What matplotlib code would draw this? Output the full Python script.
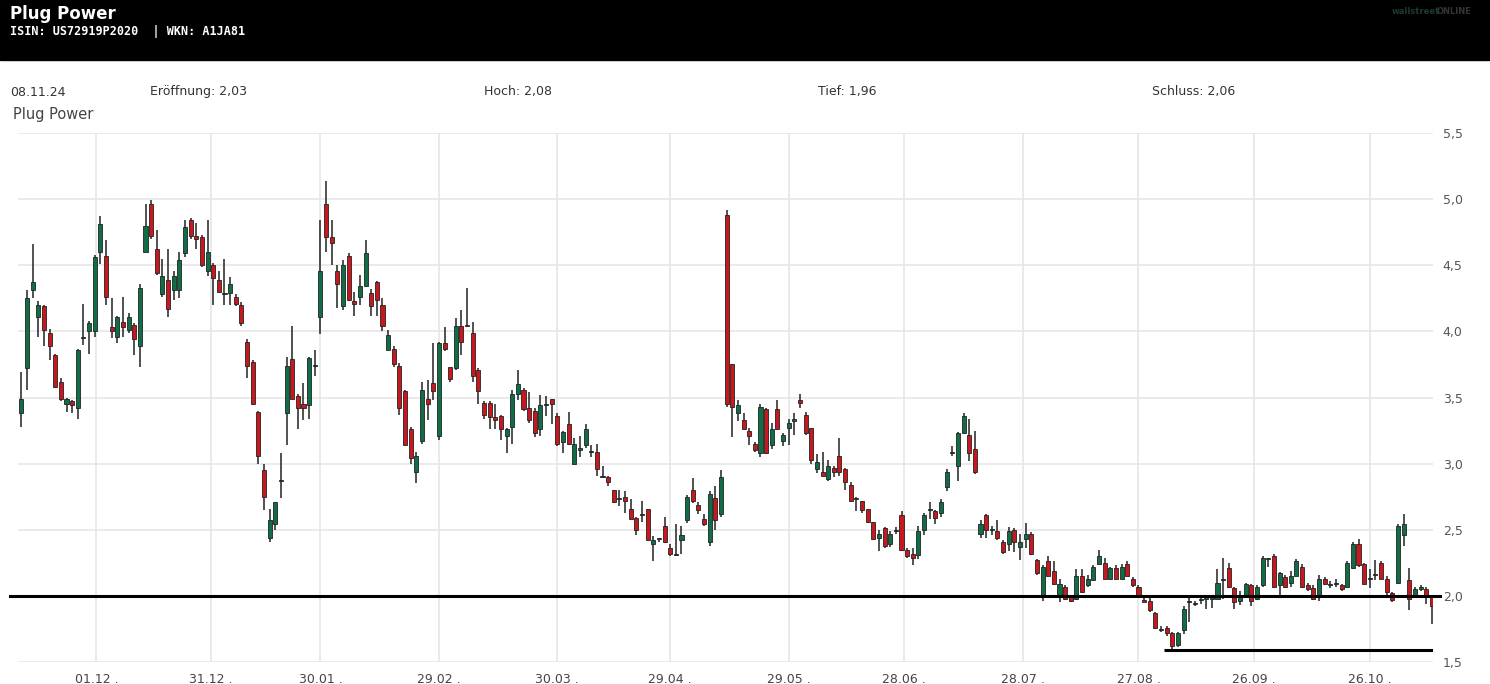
import matplotlib
matplotlib.use("Agg")
import matplotlib.pyplot as plt
from matplotlib.patches import Rectangle

opens = [3.38,3.72,4.31,4.11,4.19,3.99,3.82,3.62,3.45,3.47,3.42,3.95,4.0,4.0,4.6,4.57,4.03,3.96,4.07,4.01,
 4.05,3.89,4.6,4.96,4.62,4.28,4.39,4.31,4.31,4.59,4.84,4.72,4.71,4.46,4.5,4.39,4.28,4.29,4.26,4.2,
 3.92,3.77,3.39,2.95,2.44,2.54,2.87,3.38,3.79,3.51,3.45,3.44,3.74,4.11,4.96,4.71,4.46,4.19,4.57,4.23,
 4.26,4.34,4.29,4.37,4.2,3.86,3.87,3.74,3.55,3.26,2.94,3.17,3.49,3.61,3.21,3.91,3.73,3.72,4.04,4.05,
 3.99,3.71,3.46,3.46,3.35,3.36,3.21,3.28,3.53,3.56,3.42,3.4,3.26,3.44,3.49,3.36,3.16,3.3,3.0,3.1,
 3.14,3.09,3.09,2.9,2.9,2.8,2.73,2.75,2.66,2.59,2.61,2.66,2.39,2.43,2.53,2.36,2.31,2.42,2.57,2.8,
 2.69,2.58,2.41,2.74,2.62,4.88,3.75,3.38,3.33,3.25,3.15,3.08,3.41,3.14,3.41,3.17,3.27,3.32,3.48,3.37,
 3.27,2.96,2.94,2.88,2.97,3.06,2.96,2.84,2.73,2.72,2.66,2.56,2.44,2.51,2.39,2.49,2.61,2.35,2.32,2.31,
 2.5,2.65,2.64,2.63,2.82,3.08,2.98,3.23,3.22,3.11,2.47,2.61,2.5,2.49,2.41,2.39,2.5,2.37,2.43,2.47,
 2.27,2.0,2.26,2.19,2.0,2.07,2.0,1.98,2.15,2.08,2.12,2.24,2.25,2.13,2.21,2.13,2.24,2.13,2.07,1.97,
 1.96,1.87,1.74,1.76,1.72,1.63,1.74,1.95,1.94,1.97,1.98,1.98,1.98,2.12,2.21,2.06,1.96,2.0,2.08,1.98,
 2.08,2.28,2.3,2.08,2.14,2.1,2.15,2.22,2.08,2.06,1.99,2.13,2.08,2.09,2.08,2.07,2.21,2.39,2.24,2.13,
 2.16,2.25,2.13,2.02,2.1,2.46,2.12,2.0,2.05,2.05,1.99]
closes = [3.49,4.25,4.37,4.2,4.01,3.89,3.58,3.49,3.49,3.44,3.86,3.95,4.06,4.56,4.81,4.26,4.0,4.11,4.03,4.11,
 3.94,4.33,4.8,4.72,4.44,4.42,4.17,4.42,4.54,4.79,4.72,4.7,4.5,4.6,4.4,4.3,4.28,4.36,4.21,4.06,
 3.74,3.45,3.06,2.75,2.57,2.71,2.87,3.74,3.49,3.42,3.42,3.8,3.74,4.46,4.71,4.67,4.36,4.5,4.24,4.21,
 4.34,4.59,4.19,4.24,4.04,3.97,3.75,3.42,3.14,3.04,3.06,3.56,3.45,3.55,3.91,3.87,3.64,4.04,3.92,4.04,
 3.66,3.55,3.37,3.35,3.33,3.26,3.26,3.53,3.6,3.41,3.33,3.23,3.44,3.44,3.45,3.15,3.24,3.15,3.15,3.12,
 3.26,3.09,2.96,2.9,2.86,2.71,2.73,2.72,2.58,2.5,2.61,2.42,2.42,2.43,2.41,2.32,2.31,2.46,2.75,2.72,
 2.65,2.54,2.77,2.57,2.9,3.45,3.43,3.44,3.26,3.21,3.1,3.43,3.08,3.26,3.26,3.22,3.31,3.34,3.46,3.23,
 3.03,3.01,2.91,2.98,2.94,2.94,2.86,2.72,2.73,2.65,2.56,2.43,2.47,2.38,2.47,2.49,2.35,2.3,2.29,2.49,
 2.61,2.65,2.59,2.71,2.94,3.08,3.23,3.36,3.08,2.94,2.54,2.5,2.5,2.44,2.33,2.49,2.41,2.41,2.47,2.32,
 2.17,2.22,2.15,2.09,2.09,1.98,1.96,2.15,2.03,2.13,2.22,2.3,2.13,2.21,2.13,2.22,2.15,2.08,2.0,1.95,
 1.89,1.76,1.74,1.72,1.62,1.72,1.9,1.95,1.94,1.97,1.98,1.98,2.1,2.12,2.07,1.95,2.01,2.09,1.96,2.07,
 2.29,2.28,2.07,2.17,2.07,2.15,2.26,2.07,2.05,1.98,2.13,2.09,2.08,2.09,2.05,2.25,2.39,2.23,2.09,2.13,
 2.16,2.13,2.03,1.97,2.53,2.54,1.98,2.05,2.07,2.0,1.92]
highs = [3.69,4.31,4.66,4.23,4.2,4.02,3.83,3.65,3.5,3.48,3.87,4.21,4.08,4.58,4.87,4.69,4.25,4.12,4.26,4.14,
 4.06,4.36,4.96,4.99,4.77,4.55,4.62,4.46,4.6,4.84,4.86,4.82,4.73,4.84,4.52,4.46,4.55,4.41,4.28,4.22,
 3.94,3.78,3.4,3.0,2.66,2.71,3.08,3.81,4.04,3.53,3.61,3.81,3.86,4.84,5.14,4.84,4.5,4.54,4.59,4.3,
 4.43,4.69,4.32,4.38,4.25,4.01,3.89,3.76,3.56,3.28,3.09,3.62,3.63,3.91,3.92,4.03,3.7,4.1,4.16,4.33,
 4.07,3.72,3.47,3.47,3.45,3.37,3.27,3.56,3.71,3.57,3.54,3.42,3.52,3.51,3.49,3.38,3.25,3.39,3.19,3.21,
 3.3,3.14,3.15,2.98,2.91,2.8,2.8,2.79,2.73,2.6,2.72,2.66,2.45,2.44,2.6,2.39,2.54,2.53,2.76,2.89,
 2.71,2.62,2.79,2.83,2.95,4.92,3.75,3.48,3.38,3.27,3.16,3.45,3.42,3.31,3.48,3.23,3.34,3.38,3.53,3.39,
 3.27,3.07,3.09,3.03,2.98,3.19,2.97,2.86,2.75,2.72,2.66,2.56,2.5,2.52,2.49,2.52,2.64,2.36,2.36,2.53,
 2.63,2.71,2.65,2.73,2.96,3.13,3.24,3.38,3.34,3.25,2.57,2.62,2.53,2.57,2.42,2.52,2.51,2.47,2.55,2.48,
 2.28,2.23,2.3,2.26,2.13,2.08,2.0,2.2,2.2,2.16,2.23,2.35,2.29,2.22,2.23,2.24,2.26,2.14,2.08,1.99,
 1.99,1.88,1.77,1.77,1.73,1.73,1.92,2.0,1.96,2.01,2.01,2.0,2.2,2.29,2.25,2.07,2.04,2.1,2.09,2.08,
 2.3,2.29,2.32,2.18,2.16,2.19,2.28,2.24,2.1,2.08,2.16,2.14,2.11,2.13,2.09,2.26,2.41,2.43,2.25,2.2,
 2.27,2.26,2.15,2.03,2.54,2.62,2.21,2.07,2.08,2.07,2.01]
lows = [3.28,3.56,4.25,3.96,3.89,3.78,3.57,3.47,3.39,3.38,3.34,3.9,3.83,3.96,4.51,4.2,3.95,3.91,3.96,3.99,
 3.82,3.73,4.6,4.7,4.43,4.26,4.11,4.24,4.25,4.56,4.7,4.62,4.49,4.42,4.2,4.29,4.2,4.2,4.19,4.04,
 3.65,3.44,3.0,2.65,2.41,2.5,2.74,3.14,3.49,3.26,3.33,3.34,3.66,3.98,4.6,4.5,4.18,4.16,4.23,4.12,
 4.2,4.34,4.12,4.12,4.0,3.87,3.73,3.37,3.14,3.0,2.85,3.15,3.33,3.48,3.18,3.85,3.62,3.71,3.82,4.03,
 3.62,3.45,3.34,3.26,3.26,3.18,3.08,3.15,3.48,3.4,3.31,3.2,3.21,3.36,3.3,3.13,3.08,3.14,3.0,3.05,
 3.12,3.05,2.91,2.89,2.83,2.7,2.68,2.63,2.58,2.46,2.56,2.42,2.26,2.41,2.4,2.3,2.3,2.32,2.55,2.7,
 2.62,2.53,2.38,2.5,2.6,3.43,3.2,3.32,3.26,3.14,3.09,3.05,3.07,3.11,3.26,3.13,3.14,3.22,3.42,3.22,
 3.0,2.93,2.91,2.87,2.9,2.91,2.8,2.71,2.64,2.63,2.55,2.42,2.34,2.36,2.37,2.47,2.34,2.29,2.23,2.28,
 2.46,2.58,2.54,2.6,2.79,3.06,2.87,3.23,3.02,2.92,2.44,2.44,2.46,2.42,2.32,2.34,2.33,2.27,2.36,2.31,
 2.16,1.96,2.15,2.08,1.95,1.97,1.95,1.97,2.02,2.07,2.12,2.23,2.13,2.12,2.13,2.13,2.15,2.07,2.0,1.95,
 1.88,1.75,1.73,1.7,1.6,1.61,1.71,1.8,1.92,1.94,1.9,1.91,1.98,1.98,2.06,1.9,1.93,1.99,1.92,1.97,
 2.07,2.22,2.06,2.0,2.06,2.07,2.15,2.06,2.04,1.97,1.96,2.09,2.06,2.07,2.04,2.06,2.2,2.22,2.09,2.06,
 2.12,2.13,2.01,1.95,2.09,2.38,1.89,1.99,2.04,1.94,1.79]
tick_labels = ["01.12 .","31.12 .","30.01 .","29.02 .","30.03 .","29.04 .","29.05 .","28.06 .","28.07 .","27.08 .","26.09 .","26.10 ."]
tick_idx = [13.3,33.6,53,74,95,115,136,156.5,177.5,198,218.5,239]
support_main = 2.0
support_low = 1.59
support_low_start = 203

GREEN = "#0f6e46"; RED = "#c8171d"

fig = plt.figure(figsize=(14.9, 6.84), dpi=100)
fig.patches.append(Rectangle((0, 1 - 60/684), 1, 60/684, transform=fig.transFigure, color="black", zorder=0))
fig.text(10/1490, 1 - 14/684, "Plug Power", color="white", fontsize=12, fontweight="bold", va="center")
fig.text(10/1490, 1 - 31/684, "ISIN: US72919P2020  | WKN: A1JA81", color="white", fontsize=8.5,
         fontweight="bold", va="center", family="DejaVu Sans Mono")
fig.text(1392/1490, 1 - 11/684, "wallstreet", color="#1d3a2c", fontsize=6, fontweight="bold", va="center")
fig.text(1437/1490, 1 - 11/684, "ONLINE", color="#333333", fontsize=6, fontweight="bold", va="center")
for xp, t in [(10, "08.11.24"), (150, "Eröffnung: 2,03"), (484, "Hoch: 2,08"), (818, "Tief: 1,96"), (1152, "Schluss: 2,06")]:
    fig.text(xp/1490, 1 - 92/684, t, color="#333333", fontsize=9, va="center")
fig.text(13/1490, 1 - 114/684, "Plug Power", color="#444444", fontsize=10.5, va="center")

L, R, B, T = 18, 1433, 662, 133
ax = fig.add_axes([L/1490, 1 - B/684, (R-L)/1490, (B-T)/684])
n = len(closes)
xs = list(range(n))
for i in xs:
    o, h, l, c = opens[i], highs[i], lows[i], closes[i]
    col = GREEN if c >= o else RED
    ax.vlines(i, l, h, color="#222222", lw=1.1, zorder=2)
    bot, ht = min(o, c), max(abs(c - o), 0.008)
    ax.add_patch(Rectangle((i - 0.36, bot), 0.72, ht, facecolor=col, edgecolor="#222222", lw=0.6, zorder=3))

ax.set_xlim(-0.6, n - 0.8)
ax.set_ylim(1.5, 5.5)
yt = [1.5, 2.0, 2.5, 3.0, 3.5, 4.0, 4.5, 5.0, 5.5]
ax.set_yticks(yt)
ax.set_yticklabels([f"{v:.1f}".replace(".", ",") for v in yt])
ax.yaxis.tick_right()
ax.tick_params(axis="y", length=0, pad=7, labelsize=9, labelcolor="#555555")
ax.set_xticks(tick_idx)
ax.set_xticklabels(tick_labels)
ax.tick_params(axis="x", length=0, pad=8, labelsize=9, labelcolor="#444444")
ax.grid(True, color="#e6e6e6", lw=1.2, zorder=0)
ax.set_axisbelow(True)
ax.set_clip_on(False)
for s in ax.spines.values():
    s.set_visible(False)

ax.axhline(support_main, xmin=-0.006, xmax=1.005, color="black", lw=2.2, zorder=5, clip_on=False)
ax.hlines(support_low, support_low_start - 0.5, n - 0.8, color="black", lw=2.2, zorder=5)

fig.savefig("out.png", dpi=100)
